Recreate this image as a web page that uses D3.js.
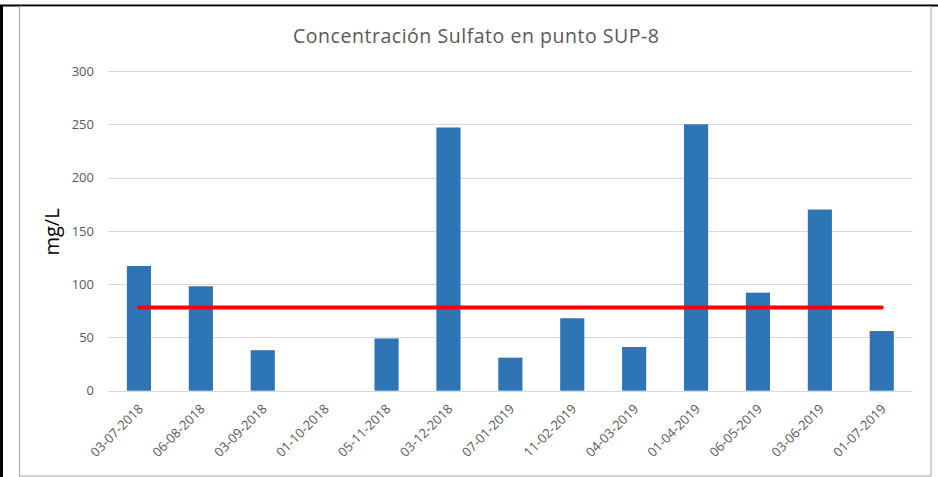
<!DOCTYPE html>
<html><head><meta charset="utf-8">
<script src="https://cdn.jsdelivr.net/npm/d3@7"></script>
<style>body{margin:0;background:#fff}svg{display:block}</style>
</head><body>
<svg id="c" width="938" height="477"></svg>
<script>
const categories = ["03-07-2018","06-08-2018","03-09-2018","01-10-2018","05-11-2018","03-12-2018","07-01-2019","11-02-2019","04-03-2019","01-04-2019","06-05-2019","03-06-2019","01-07-2019"];
const sulfato = [117, 98, 38, 0, 49, 247, 31, 68, 41, 250, 92, 170, 56];
const limite = [78, 78, 78, 78, 78, 78, 78, 78, 78, 78, 78, 78, 78];
const yTicks = [0, 50, 100, 150, 200, 250, 300];
const titleText = "Concentración Sulfato en punto SUP-8";
const yLabel = "mg/L";

const svg = d3.select("#c");
const font = "Open Sans, sans-serif";

// outer frame
svg.append("rect").attr("x",0).attr("y",0).attr("width",938).attr("height",477).attr("fill","#fff");
svg.append("line").attr("x1",0).attr("x2",938).attr("y1",5.5).attr("y2",5.5).attr("stroke","#000").attr("stroke-width",2);
svg.append("line").attr("x1",1.5).attr("x2",1.5).attr("y1",5).attr("y2",477).attr("stroke","#000").attr("stroke-width",3);
// chart area border
svg.append("rect").attr("x",19.5).attr("y",6.5).attr("width",911.5).attr("height",469.5)
  .attr("fill","#fff").attr("stroke","#a6a6a6").attr("stroke-width",1);

const x = d3.scaleBand().domain(categories).range([108, 912.7]).paddingInner(0.61).paddingOuter(0.305);
const y = d3.scaleLinear().domain([0, 300]).range([390.7, 71]);

// gridlines
svg.append("g").selectAll("line").data(yTicks).join("line")
  .attr("x1",108).attr("x2",912.7)
  .attr("y1",d=>Math.round(y(d))+0.5).attr("y2",d=>Math.round(y(d))+0.5)
  .attr("stroke","#d9d9d9").attr("stroke-width",1);

// y axis
const yAxis = d3.axisLeft(y).tickValues(yTicks).tickSize(0).tickPadding(14);
const gy = svg.append("g").attr("transform","translate(108,0)").call(yAxis);
gy.select(".domain").remove();
gy.selectAll("text").attr("fill","#595959").attr("font-size","13px").attr("font-family",font);

// bars
svg.append("g").selectAll("rect").data(sulfato).join("rect")
  .attr("x",(d,i)=>x(categories[i]))
  .attr("width",x.bandwidth())
  .attr("y",d=>y(d))
  .attr("height",d=>y(0)-y(d))
  .attr("fill","#2e75b6");

// x axis
const xAxis = d3.axisBottom(x).tickSize(0).tickPadding(0);
const gx = svg.append("g").attr("transform","translate(0,"+y(0)+")").call(xAxis);
gx.select(".domain").remove();
gx.selectAll("text")
  .attr("fill","#595959").attr("font-size","13px").attr("font-family",font)
  .attr("text-anchor","end").attr("dy",0).attr("dx",0).attr("y",0).attr("x",0)
  .attr("transform","translate(5,19) rotate(-45)");

// red line
const line = d3.line().x((d,i)=>x(categories[i])+x.bandwidth()/2).y(d=>y(d));
svg.append("path").datum(limite).attr("d",line).attr("fill","none")
  .attr("stroke","#ff0000").attr("stroke-width",4).attr("stroke-linecap","round");

// title
svg.append("text").attr("x",476).attr("y",43).attr("text-anchor","middle")
  .attr("fill","#595959").attr("font-size","19.5px").attr("font-family",font)
  .attr("textLength",366).attr("lengthAdjust","spacing")
  .text(titleText);

// y label
svg.append("text").attr("transform","translate(59,232) rotate(-90)").attr("text-anchor","middle")
  .attr("fill","#000").attr("font-size","20px").attr("font-family",font)
  .text(yLabel);
</script>
</body></html>
